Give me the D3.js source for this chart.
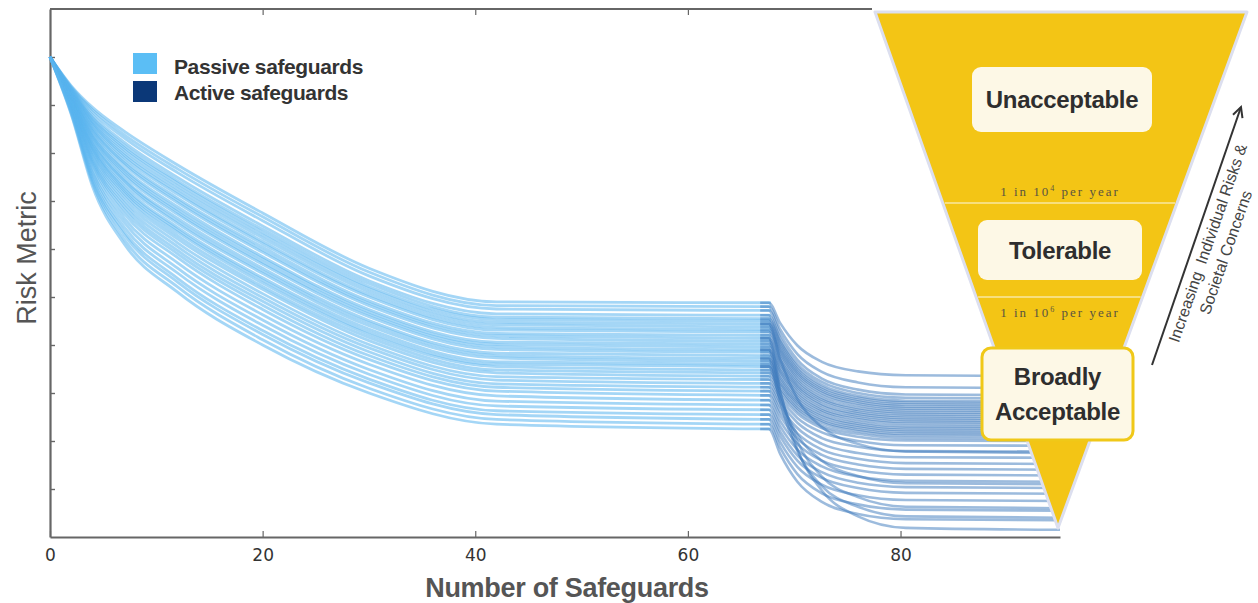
<!DOCTYPE html>
<html>
<head>
<meta charset="utf-8">
<script src="https://cdnjs.cloudflare.com/ajax/libs/d3/7.8.5/d3.min.js"></script>
<style>
  body { margin: 0; background: #fff; }
  svg { display: block; }
</style>
</head>
<body>
<div id="chart"></div>
<script>
// ---- data ----
var startRisk = 10;
var xTicks = [0, 20, 40, 60, 80];
var yTicks = [1, 2, 3, 4, 5, 6, 7, 8, 9, 10];

// passive safeguards: risk at x = 2, 4, 7, 12, 20, 30, 42, then the plateau up to x = 67.8
var passiveX = [0, 2, 4, 7, 12, 20, 30, 42, 67.8];
var passiveRuns = [
  [9.40, 8.95, 8.45, 7.75, 6.75, 5.60, 4.90, 4.88],
  [9.38, 8.90, 8.38, 7.67, 6.67, 5.52, 4.82, 4.80],
  [9.36, 8.85, 8.31, 7.59, 6.59, 5.44, 4.75, 4.72],
  [9.34, 8.79, 8.22, 7.49, 6.48, 5.34, 4.65, 4.62],
  [9.33, 8.74, 8.16, 7.42, 6.41, 5.28, 4.58, 4.55],
  [9.31, 8.71, 8.11, 7.37, 6.35, 5.22, 4.53, 4.50],
  [9.30, 8.67, 8.06, 7.31, 6.29, 5.17, 4.47, 4.44],
  [9.29, 8.64, 8.00, 7.25, 6.23, 5.11, 4.42, 4.38],
  [9.27, 8.60, 7.95, 7.19, 6.16, 5.05, 4.36, 4.32],
  [9.26, 8.57, 7.90, 7.14, 6.11, 5.00, 4.31, 4.27],
  [9.24, 8.52, 7.84, 7.06, 6.04, 4.92, 4.24, 4.20],
  [9.23, 8.49, 7.79, 7.01, 5.98, 4.87, 4.19, 4.14],
  [9.22, 8.46, 7.75, 6.96, 5.93, 4.82, 4.14, 4.08],
  [9.20, 8.41, 7.67, 6.88, 5.84, 4.74, 4.06, 4.02],
  [9.19, 8.37, 7.63, 6.82, 5.79, 4.69, 4.01, 3.96],
  [9.18, 8.34, 7.58, 6.77, 5.73, 4.64, 3.96, 3.90],
  [9.17, 8.31, 7.53, 6.72, 5.68, 4.59, 3.91, 3.85],
  [9.15, 8.26, 7.46, 6.64, 5.60, 4.51, 3.83, 3.78],
  [9.14, 8.22, 7.42, 6.58, 5.54, 4.46, 3.78, 3.72],
  [9.12, 8.19, 7.37, 6.53, 5.49, 4.40, 3.73, 3.66],
  [9.11, 8.14, 7.30, 6.45, 5.40, 4.33, 3.65, 3.60],
  [9.09, 8.11, 7.25, 6.40, 5.35, 4.27, 3.60, 3.55],
  [9.08, 8.08, 7.20, 6.35, 5.29, 4.22, 3.55, 3.48],
  [9.07, 8.03, 7.15, 6.28, 5.22, 4.16, 3.48, 3.42],
  [9.05, 7.99, 7.09, 6.21, 5.16, 4.09, 3.42, 3.35],
  [9.03, 7.94, 7.02, 6.13, 5.07, 4.01, 3.34, 3.28],
  [9.02, 7.89, 6.95, 6.05, 4.99, 3.94, 3.27, 3.20],
  [9.00, 7.84, 6.88, 5.97, 4.91, 3.86, 3.19, 3.12],
  [8.98, 7.80, 6.81, 5.90, 4.83, 3.78, 3.12, 3.04],
  [8.96, 7.75, 6.73, 5.82, 4.74, 3.70, 3.04, 2.95],
  [8.94, 7.68, 6.64, 5.71, 4.63, 3.60, 2.94, 2.85],
  [8.91, 7.61, 6.55, 5.60, 4.52, 3.49, 2.83, 2.75],
  [8.89, 7.55, 6.45, 5.50, 4.41, 3.39, 2.73, 2.65],
  [8.87, 7.48, 6.36, 5.39, 4.30, 3.29, 2.63, 2.55],
  [8.85, 7.43, 6.29, 5.31, 4.22, 3.21, 2.55, 2.45],
  [8.82, 7.37, 6.19, 5.21, 4.11, 3.10, 2.45, 2.35],
  [8.80, 7.30, 6.10, 5.10, 4.00, 3.00, 2.35, 2.25]
];

// active safeguards: start level, then risk at x = 68.7, 70.3, 72.6, 76, 80.5 and the final level
var activeX = [66.8, 67.6, 68.7, 70.3, 72.6, 76, 80.5, 95];
var activeRuns = [
  [4.88, 4.45, 3.99, 3.65, 3.45, 3.37, 3.35],
  [4.80, 4.32, 3.81, 3.44, 3.22, 3.12, 3.10],
  [4.72, 4.22, 3.69, 3.30, 3.07, 2.97, 2.95],
  [4.62, 4.13, 3.61, 3.23, 3.00, 2.90, 2.88],
  [4.55, 4.07, 3.55, 3.17, 2.94, 2.84, 2.82],
  [4.50, 4.02, 3.50, 3.12, 2.90, 2.80, 2.78],
  [4.44, 3.96, 3.45, 3.08, 2.86, 2.76, 2.74],
  [4.38, 3.91, 3.41, 3.04, 2.82, 2.72, 2.70],
  [4.32, 3.86, 3.36, 3.00, 2.78, 2.68, 2.66],
  [4.27, 3.81, 3.31, 2.95, 2.74, 2.64, 2.62],
  [4.20, 3.75, 3.26, 2.90, 2.69, 2.60, 2.58],
  [4.14, 3.69, 3.21, 2.86, 2.65, 2.56, 2.54],
  [4.08, 3.64, 3.16, 2.82, 2.61, 2.52, 2.50],
  [4.02, 3.58, 3.12, 2.77, 2.57, 2.48, 2.46],
  [3.96, 3.53, 3.07, 2.73, 2.53, 2.44, 2.42],
  [3.90, 3.47, 3.02, 2.68, 2.49, 2.40, 2.38],
  [3.85, 3.43, 2.97, 2.64, 2.45, 2.36, 2.34],
  [3.78, 3.37, 2.92, 2.60, 2.40, 2.31, 2.30],
  [3.72, 3.31, 2.87, 2.55, 2.36, 2.27, 2.26],
  [3.66, 3.26, 2.82, 2.51, 2.32, 2.23, 2.22],
  [3.60, 3.20, 2.78, 2.46, 2.28, 2.19, 2.18],
  [3.55, 3.16, 2.73, 2.42, 2.24, 2.15, 2.14],
  [3.48, 3.09, 2.68, 2.38, 2.20, 2.11, 2.10],
  [3.42, 3.04, 2.63, 2.32, 2.15, 2.06, 2.05],
  [3.35, 2.97, 2.57, 2.27, 2.09, 2.01, 2.00],
  [3.28, 2.89, 2.48, 2.18, 2.00, 1.91, 1.90],
  [3.20, 2.80, 2.38, 2.06, 1.88, 1.79, 1.78],
  [3.12, 2.71, 2.27, 1.94, 1.75, 1.66, 1.65],
  [3.04, 2.61, 2.16, 1.82, 1.63, 1.54, 1.52],
  [2.95, 2.52, 2.05, 1.71, 1.51, 1.42, 1.40],
  [2.85, 2.41, 1.94, 1.59, 1.39, 1.30, 1.28],
  [2.75, 2.30, 1.82, 1.47, 1.26, 1.17, 1.15],
  [2.65, 2.19, 1.70, 1.35, 1.13, 1.04, 1.02],
  [2.55, 2.09, 1.59, 1.23, 1.02, 0.92, 0.90],
  [2.45, 1.97, 1.46, 1.09, 0.87, 0.77, 0.75],
  [2.35, 1.85, 1.31, 0.91, 0.68, 0.57, 0.55],
  [2.25, 1.72, 1.15, 0.73, 0.48, 0.37, 0.35],
  [3.90, 2.98, 1.99, 1.26, 0.83, 0.63, 0.60],
  [4.14, 3.02, 1.83, 0.97, 0.43, 0.19, 0.15],
  [3.55, 2.86, 2.13, 1.59, 1.27, 1.12, 1.10],
  [4.44, 3.69, 2.88, 2.29, 1.94, 1.78, 1.75],
  [3.72, 2.79, 1.79, 1.06, 0.63, 0.43, 0.40]
];

var legendItems = ["Passive safeguards", "Active safeguards"];
var zoneLabels = ["Unacceptable", "Tolerable", ["Broadly", "Acceptable"]];
var limitLabels = [["1 in 10", "4", " per year"], ["1 in 10", "6", " per year"]];
var arrowLabel = ["Increasing  Individual Risks &", "Societal Concerns"];

// ---- layout ----
var W = 1258, H = 603;
var plot = {left: 50, right: 1060, top: 9, bottom: 537};

var svg = d3.select("#chart")
  .append("svg")
    .attr("width", W)
    .attr("height", H)
    .style("font-family", "'Liberation Sans', Arial, sans-serif");

var x = d3.scaleLinear().domain([0, 95]).range([plot.left, plot.right]);
var y = d3.scaleLinear().domain([0, 11]).range([plot.bottom, plot.top]);

// axes + frame
var axisColor = "#666";
svg.append("g")
  .attr("transform", "translate(0," + plot.bottom + ")")
  .call(d3.axisBottom(x).tickValues(xTicks).tickSize(-6).tickSizeOuter(0).tickPadding(12))
  .call(function(g) {
    g.select(".domain").attr("stroke", axisColor).attr("stroke-width", 2.2);
    g.selectAll(".tick line").attr("stroke", axisColor).attr("stroke-width", 1.2);
    g.selectAll(".tick text").attr("fill", "#333").attr("font-size", 17)
      .attr("font-family", "'DejaVu Sans', sans-serif");
  });

// top frame stops where the triangle begins
svg.append("line")
  .attr("x1", plot.left).attr("x2", 872)
  .attr("y1", plot.top).attr("y2", plot.top)
  .attr("stroke", axisColor).attr("stroke-width", 2);
svg.append("g")
  .attr("transform", "translate(0," + plot.top + ")")
  .call(d3.axisTop(x).tickValues([20, 40, 60]).tickSize(-6).tickSizeOuter(0).tickFormat(""))
  .call(function(g) {
    g.select(".domain").remove();
    g.selectAll(".tick line").attr("stroke", axisColor).attr("stroke-width", 1.2);
  });

svg.append("g")
  .attr("transform", "translate(" + plot.left + ",0)")
  .call(d3.axisLeft(y).tickValues(yTicks).tickSize(-5).tickSizeOuter(0).tickFormat(""))
  .call(function(g) {
    g.select(".domain").attr("stroke", axisColor).attr("stroke-width", 2.2);
    g.selectAll(".tick line").attr("stroke", axisColor).attr("stroke-width", 1.4);
  });

// lines
var line = d3.line()
  .x(function(d) { return x(d[0]); })
  .y(function(d) { return y(d[1]); })
  .curve(d3.curveMonotoneX);

var passivePts = passiveRuns.map(function(r) {
  var vals = [startRisk].concat(r);
  return passiveX.map(function(px, i) { return [px, vals[i]]; });
});
var activePts = activeRuns.map(function(r) {
  var vals = [r[0]].concat(r);
  return activeX.map(function(ax, i) { return [ax, vals[i]]; });
});

svg.append("g").selectAll("path")
  .data(passivePts)
  .join("path")
    .attr("d", line)
    .attr("fill", "none")
    .attr("stroke", "#5ab4ee")
    .attr("stroke-opacity", 0.55)
    .attr("stroke-width", 2.8);

svg.append("g").selectAll("path")
  .data(activePts)
  .join("path")
    .attr("d", line)
    .attr("fill", "none")
    .attr("stroke", "#3a77bb")
    .attr("stroke-opacity", 0.5)
    .attr("stroke-width", 2.6);

// risk triangle
var yellow = "#f3c515", cream = "#fdf8e6";
var tri = [[875, 12], [1247, 12], [1058, 528]];
svg.append("polygon")
  .attr("points", tri.map(function(p) { return p.join(","); }).join(" "))
  .attr("fill", yellow)
  .attr("stroke", "#dcdfef")
  .attr("stroke-width", 3)
  .attr("stroke-linejoin", "round");

function edgeX(yy) {
  var t = (yy - 12) / (528 - 12);
  return [875 + (1058 - 875) * t, 1247 - (1247 - 1058) * t];
}
[203, 297].forEach(function(yy) {
  var e = edgeX(yy);
  svg.append("line")
    .attr("x1", e[0] + 2).attr("x2", e[1] - 2)
    .attr("y1", yy).attr("y2", yy)
    .attr("stroke", "#f9e7a2").attr("stroke-width", 1.5);
});

limitLabels.forEach(function(l, i) {
  var t = svg.append("text")
    .attr("x", 1060).attr("y", i === 0 ? 196 : 317)
    .attr("text-anchor", "middle")
    .attr("font-family", "'Liberation Serif', serif")
    .attr("font-size", 13)
    .attr("letter-spacing", 2)
    .attr("fill", "#5a5440");
  t.append("tspan").text(l[0]);
  t.append("tspan").attr("dy", -5).attr("font-size", 8).text(l[1]);
  t.append("tspan").attr("dy", 5).text(l[2]);
});

var boxes = [
  {x: 972, y: 67, w: 180, h: 65},
  {x: 978, y: 220, w: 164, h: 60},
  {x: 982, y: 348, w: 151, h: 92}
];
boxes.forEach(function(b, i) {
  svg.append("rect")
    .attr("x", b.x).attr("y", b.y).attr("width", b.w).attr("height", b.h)
    .attr("rx", 9)
    .attr("fill", cream)
    .attr("stroke", i === 2 ? "#f0c818" : "none")
    .attr("stroke-width", 3);
  var lab = zoneLabels[i];
  var lines = Array.isArray(lab) ? lab : [lab];
  var cx = b.x + b.w / 2;
  var cy = b.y + b.h / 2;
  var step = 35;
  lines.forEach(function(s, j) {
    svg.append("text")
      .attr("x", cx)
      .attr("y", cy + 8.5 + (j - (lines.length - 1) / 2) * step)
      .attr("text-anchor", "middle")
      .attr("font-size", 24)
      .attr("font-weight", "bold")
      .attr("letter-spacing", -0.3)
      .attr("fill", "#2e2e2e")
      .text(s);
  });
});

// arrow on the right
svg.append("defs").append("marker")
  .attr("id", "head")
  .attr("markerUnits", "userSpaceOnUse")
  .attr("markerWidth", 16).attr("markerHeight", 16)
  .attr("refX", 11).attr("refY", 6)
  .attr("orient", "auto")
  .append("path")
    .attr("d", "M1,1 L11,6 L1,11")
    .attr("fill", "none")
    .attr("stroke", "#333")
    .attr("stroke-width", 2);

svg.append("line")
  .attr("x1", 1152).attr("y1", 365)
  .attr("x2", 1241).attr("y2", 107)
  .attr("stroke", "#333")
  .attr("stroke-width", 2)
  .attr("marker-end", "url(#head)");

var ag = svg.append("g")
  .attr("transform", "translate(1197,236) rotate(-70.8)");
arrowLabel.forEach(function(s, j) {
  ag.append("text")
    .attr("x", j === 0 ? -3 : -6)
    .attr("y", 18 + j * 20)
    .attr("text-anchor", "middle")
    .attr("font-size", 16)
    .attr("fill", "#444")
    .style("white-space", "pre")
    .text(s);
});

// legend
var legendColors = ["#5bbef5", "#0b3878"];
legendItems.forEach(function(s, i) {
  svg.append("rect")
    .attr("x", 133).attr("y", 53 + i * 28)
    .attr("width", 24).attr("height", 21)
    .attr("fill", legendColors[i]);
  svg.append("text")
    .attr("x", 174).attr("y", 74 + i * 26)
    .attr("font-size", 21)
    .attr("font-weight", "bold")
    .attr("letter-spacing", -0.4)
    .attr("fill", "#333")
    .text(s);
});

// axis titles
svg.append("text")
  .attr("transform", "translate(36,258) rotate(-90)")
  .attr("text-anchor", "middle")
  .attr("font-size", 27)
  .attr("fill", "#555")
  .text("Risk Metric");

svg.append("text")
  .attr("x", 567).attr("y", 597)
  .attr("text-anchor", "middle")
  .attr("font-size", 27)
  .attr("font-weight", "bold")
  .attr("letter-spacing", -0.3)
  .attr("fill", "#555")
  .text("Number of Safeguards");
</script>
</body>
</html>
